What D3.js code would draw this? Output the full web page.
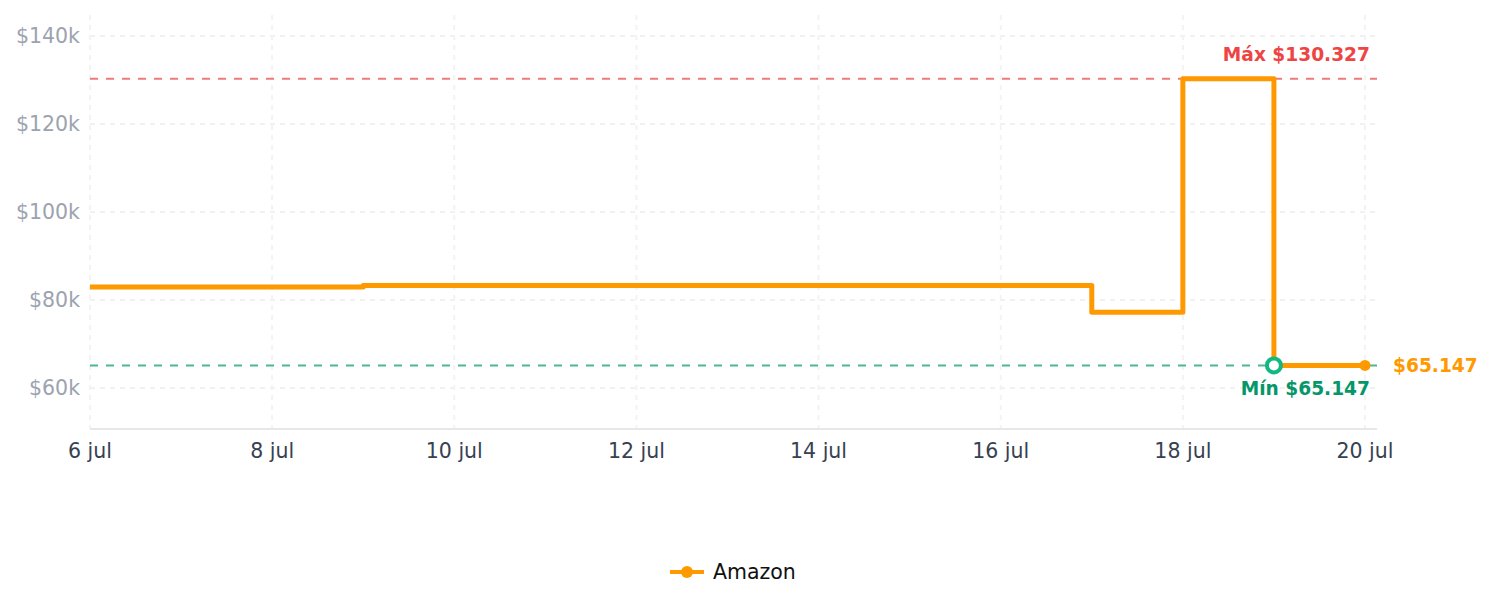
<!DOCTYPE html>
<html>
<head>
<meta charset="utf-8">
<script src="https://cdn.jsdelivr.net/npm/d3@7"></script>
<style>
  body { margin: 0; background: #fff; }
  svg text { font-family: "DejaVu Sans", sans-serif; }
</style>
</head>
<body>
<svg id="chart" width="1491" height="607"></svg>
<script>
// data
var dates = ['2025-07-06', '2025-07-07', '2025-07-08', '2025-07-09', '2025-07-10', '2025-07-11',
    '2025-07-12', '2025-07-13', '2025-07-14', '2025-07-15', '2025-07-16', '2025-07-17',
    '2025-07-18', '2025-07-19', '2025-07-20'];
var prices = [82950, 82950, 82950, 83290, 83290, 83290, 83290, 83290, 83290, 83290, 83290,
    77250, 130327, 65147, 65147];
var yTicks = [60000, 80000, 100000, 120000, 140000];
var seriesName = 'Amazon';

var plotLeft = 90, plotRight = 1377, plotTop = 15, plotBottom = 429;
var lineColor = '#ff9900';

var parse = d3.timeParse('%Y-%m-%d');
var data = dates.map(function (d, i) { return { date: parse(d), price: prices[i] }; });

var svg = d3.select('#chart');

var x = d3.scaleTime()
    .domain([parse(dates[0]), parse(dates[dates.length - 1])])
    .range([plotLeft, 1365]);
var y = d3.scaleLinear().domain([50700, 144800]).range([plotBottom, plotTop]);

var fmtMoney = function (v) {
    return '$' + d3.format(',')(v).replace(/,/g, '.');
};

// grid
var grid = svg.append('g');
grid.selectAll('.hgrid').data(yTicks).join('line')
    .attr('x1', plotLeft).attr('x2', plotRight)
    .attr('y1', function (d) { return y(d); }).attr('y2', function (d) { return y(d); })
    .attr('stroke', '#f1f1f1').attr('stroke-width', 2).attr('stroke-dasharray', '5,5');
var xTicks = d3.timeDay.range(parse(dates[0]), d3.timeDay.offset(parse(dates[dates.length - 1]), 1), 2);
grid.selectAll('.vgrid').data(xTicks).join('line')
    .attr('x1', function (d) { return x(d); }).attr('x2', function (d) { return x(d); })
    .attr('y1', plotTop).attr('y2', plotBottom)
    .attr('stroke', '#f3f3f3').attr('stroke-width', 2).attr('stroke-dasharray', '5,5');

// y labels
svg.append('g').selectAll('text').data(yTicks).join('text')
    .attr('x', 80).attr('y', function (d) { return y(d); }).attr('dy', '0.35em')
    .attr('text-anchor', 'end').attr('font-size', 20.5).attr('fill', '#9ca3af')
    .text(function (d) { return '$' + d / 1000 + 'k'; });

// x axis
svg.append('line').attr('x1', plotLeft).attr('x2', plotRight).attr('y1', plotBottom).attr('y2', plotBottom)
    .attr('stroke', '#e5e7eb').attr('stroke-width', 2);
svg.append('g').selectAll('text').data(xTicks).join('text')
    .attr('x', function (d) { return x(d); }).attr('y', 458)
    .attr('text-anchor', 'middle').attr('font-size', 20.5).attr('fill', '#374151')
    .text(function (d) { return d.getDate() + ' jul'; });

// max / min reference lines
var maxP = d3.max(prices), minP = d3.min(prices);
var minIdx = prices.indexOf(minP);
svg.append('line').attr('x1', plotLeft).attr('x2', plotRight).attr('y1', y(maxP)).attr('y2', y(maxP))
    .attr('stroke', '#f07a7a').attr('stroke-width', 2).attr('stroke-dasharray', '8,8');
svg.append('line').attr('x1', plotLeft).attr('x2', plotRight).attr('y1', y(minP)).attr('y2', y(minP))
    .attr('stroke', '#4cb88f').attr('stroke-width', 2).attr('stroke-dasharray', '8,8');
svg.append('text').attr('x', 1370).attr('y', 61).attr('text-anchor', 'end')
    .attr('font-size', 18.6).attr('font-weight', 'bold').attr('fill', '#ef4444')
    .text('Máx ' + fmtMoney(maxP));
svg.append('text').attr('x', 1370).attr('y', 395).attr('text-anchor', 'end')
    .attr('font-size', 18.6).attr('font-weight', 'bold').attr('fill', '#059669')
    .text('Mín ' + fmtMoney(minP));

// price line
var line = d3.line().curve(d3.curveStepAfter)
    .x(function (d) { return x(d.date); }).y(function (d) { return y(d.price); });
svg.append('path').datum(data).attr('d', line)
    .attr('fill', 'none').attr('stroke', lineColor).attr('stroke-width', 5)
    .attr('stroke-linejoin', 'round');

// last point + label
var last = data[data.length - 1];
svg.append('circle').attr('cx', x(last.date)).attr('cy', y(last.price)).attr('r', 5.5)
    .attr('fill', lineColor);
svg.append('text').attr('x', x(last.date) + 28).attr('y', y(last.price)).attr('dy', '0.35em')
    .attr('font-size', 18.6).attr('font-weight', 'bold').attr('fill', lineColor)
    .text(fmtMoney(last.price));

// min marker
svg.append('circle').attr('cx', x(data[minIdx].date)).attr('cy', y(minP)).attr('r', 7)
    .attr('fill', '#fff').attr('stroke', '#10b981').attr('stroke-width', 4);

// legend
var lg = svg.append('g').attr('transform', 'translate(670,572)');
lg.append('line').attr('x1', 0).attr('x2', 34).attr('stroke', lineColor).attr('stroke-width', 4);
lg.append('circle').attr('cx', 17).attr('r', 6).attr('fill', lineColor);
lg.append('text').attr('x', 43).attr('dy', '0.35em').attr('font-size', 20.5).attr('fill', '#111')
    .text(seriesName);
</script>
</body>
</html>
